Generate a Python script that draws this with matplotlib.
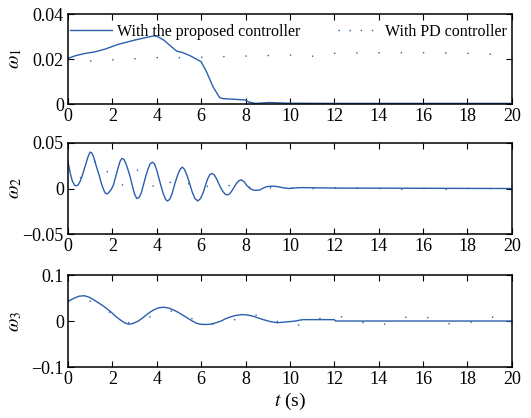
import matplotlib
matplotlib.use("Agg")
import matplotlib.pyplot as plt
from matplotlib.lines import Line2D

plt.rcParams['font.family'] = ['Liberation Serif', 'DejaVu Serif']
plt.rcParams['mathtext.fontset'] = 'stix'

# ---- data ----
t1_prop = [0, 0.34, 0.78, 1.22, 1.67, 2.26, 3.0, 3.58, 3.88, 4.03, 4.32, 4.6, 4.9, 5.13, 5.5, 6.0,
           6.24, 6.53, 6.83, 6.98, 7.4, 8.0, 8.15, 8.45, 9.05, 9.9, 12, 20]
w1_prop = [0.0203, 0.0215, 0.0225, 0.0232, 0.0244, 0.0265, 0.0284, 0.0297, 0.0303, 0.0300, 0.0284,
           0.0260, 0.0235, 0.0230, 0.0215, 0.0188, 0.0144, 0.0078, 0.0029, 0.0024, 0.0022, 0.0018,
           0.0009, 0.0003, 0.0007, 0.0004, 0.0003, 0.0003]
t1_pd = [0, 0.5, 1.1, 1.67, 2.85, 3.9, 5.5, 6.4, 7.9, 10.0, 10.8, 12, 14, 16, 18, 20]
w1_pd = [0.0203, 0.0196, 0.0190, 0.0195, 0.0200, 0.0206, 0.0206, 0.0209, 0.0213, 0.0218, 0.0210,
         0.0225, 0.0228, 0.0228, 0.0225, 0.0218]

t2_prop = [0, 0.06, 0.12, 0.2, 0.3, 0.38, 0.46, 0.55, 0.63, 0.73, 0.83, 0.92, 1.0, 1.07, 1.15,
           1.27, 1.4, 1.5, 1.6, 1.68, 1.76, 1.85, 1.95, 2.05, 2.15, 2.25, 2.35, 2.43, 2.52, 2.6,
           2.7, 2.8, 2.9, 3.0, 3.1, 3.2, 3.3, 3.4, 3.5, 3.6, 3.7, 3.8, 3.9, 4.0, 4.1, 4.2, 4.3,
           4.4, 4.48, 4.58, 4.7, 4.8, 4.93, 5.05, 5.15, 5.25, 5.37, 5.5, 5.6, 5.72, 5.85, 5.97,
           6.1, 6.2, 6.3, 6.4, 6.5, 6.6, 6.7, 6.8, 6.9, 7.0, 7.1, 7.2, 7.3, 7.4, 7.5, 7.6, 7.7,
           7.82, 7.95, 8.07, 8.2, 8.36, 8.5, 8.65, 8.8, 8.95, 9.1, 9.3, 9.5, 9.7, 9.95, 10.2,
           10.5, 12, 20]
w2_prop = [0.0295, 0.022, 0.015, 0.008, 0.0035, 0.003, 0.004, 0.008, 0.013, 0.021, 0.029, 0.036,
           0.040, 0.039, 0.035, 0.025, 0.015, 0.006, -0.001, -0.005, -0.006, -0.004, -0.001,
           0.004, 0.013, 0.022, 0.030, 0.033, 0.032, 0.028, 0.021, 0.013, 0.003, -0.006, -0.011,
           -0.010, -0.005, 0.004, 0.013, 0.021, 0.027, 0.029, 0.027, 0.020, 0.011, 0.002, -0.006,
           -0.012, -0.0137, -0.012, -0.005, 0.004, 0.014, 0.021, 0.0235, 0.021, 0.014, 0.004,
           -0.004, -0.011, -0.0137, -0.011, -0.004, 0.004, 0.011, 0.0155, 0.0165, 0.0145, 0.0105,
           0.005, 0.0, -0.004, -0.0065, -0.007, -0.0055, -0.002, 0.002, 0.006, 0.0085, 0.0095,
           0.007, 0.003, 0.0, -0.0018, -0.002, -0.0015, 0.0005, 0.002, 0.0025, 0.0025, 0.0018,
           0.0008, 0.0, 0.0005, 0.001, 0.0005, 0.0]
t2_pd = [0, 0.15, 0.37, 0.6, 0.77, 0.93, 1.15, 1.4, 1.66, 1.8, 2.1, 2.4, 2.75, 3.1, 3.4, 3.73,
         4.07, 4.47, 4.86, 5.3, 5.6, 5.95, 6.3, 6.9, 7.2, 7.6, 8.1, 8.56, 9.0, 9.5, 10.0, 10.5,
         11.0, 11.5, 12.4, 13.4, 14, 15, 16, 17, 18, 19, 20]
w2_pd = [0.030, 0.019, 0.012, 0.012, 0.014, 0.019, 0.028, 0.034, 0.024, 0.017, 0.008, 0.0025,
         0.012, 0.021, 0.013, 0.0054, -0.003, 0.0043, 0.0115, 0.0097, 0.0, -0.002, 0.0025, 0.005,
         0.0043, -0.002, 0.0007, 0.005, 0.002, -0.003, 0.0, 0.003, 0.0, -0.001, 0.002, -0.001,
         0.0, -0.001, 0.0, -0.001, 0.0, 0.0, 0.0]

t3_prop = [0, 0.25, 0.5, 0.74, 0.95, 1.2, 1.55, 1.8, 2.0, 2.2, 2.4, 2.6, 2.75, 2.95, 3.17, 3.4,
           3.6, 3.85, 4.1, 4.32, 4.55, 4.8, 5.0, 5.2, 5.4, 5.6, 5.8, 5.97, 6.2, 6.4, 6.65, 6.9,
           7.1, 7.3, 7.55, 7.85, 8.1, 8.3, 8.55, 8.8, 9.1, 9.4, 9.6, 9.8, 10.05, 10.25, 10.45,
           10.6, 12.0, 12.05, 20]
w3_prop = [0.043, 0.049, 0.054, 0.055, 0.052, 0.045, 0.034, 0.025, 0.017, 0.008, 0.001, -0.005,
           -0.007, -0.005, 0.0, 0.008, 0.016, 0.024, 0.029, 0.030, 0.028, 0.023, 0.018, 0.012,
           0.006, 0.0, -0.005, -0.007, -0.0075, -0.007, -0.004, 0.0, 0.005, 0.0086, 0.012, 0.014,
           0.013, 0.011, 0.007, 0.003, -0.001, -0.0036, -0.003, -0.002, -0.001, 0.0, 0.002,
           0.003, 0.003, 0.0, 0.0]
t3_pd = [0, 0.55, 1.03, 1.6, 2.2, 2.65, 3.1, 3.6, 4.1, 4.6, 5.1, 5.5, 5.97, 6.4, 6.9, 7.35, 7.85,
         8.3, 8.8, 9.3, 9.8, 10.2, 10.7, 10.9, 11.4, 11.85, 12.35, 12.85, 13.3, 13.8, 14.3, 14.7,
         15.2, 15.5, 16.0, 16.5, 16.95, 17.4, 17.9, 18.4, 18.9, 19.4, 19.9, 20]
w3_pd = [0.042, 0.048, 0.043, 0.028, 0.009, -0.004, -0.002, 0.007, 0.017, 0.022, 0.017, 0.007,
         -0.004, -0.007, -0.006, 0.0, 0.009, 0.014, 0.011, 0.0015, -0.007, -0.011, -0.005, -0.002,
         0.0065, 0.013, 0.009, 0.003, -0.0036, -0.010, -0.0065, 0.0, 0.008, 0.010, 0.010, 0.0036,
         -0.0036, -0.008, -0.005, 0.0, 0.007, 0.010, 0.007, 0.006]

xticks = [0, 2, 4, 6, 8, 10, 12, 14, 16, 18, 20]
yticks1 = [0, 0.02, 0.04]
yticks2 = [-0.05, 0, 0.05]
yticks3 = [-0.1, 0, 0.1]
ylabels = [r'$\omega_1$', r'$\omega_2$', r'$\omega_3$']
ytlabels1 = ['0', '0.02', '0.04']
ytlabels2 = ['\u22120.05', '0', '0.05']
ytlabels3 = ['\u22120.1', '0', '0.1']
legend_labels = ['With the proposed controller', 'With PD controller']

color = '#2b5fad'

fig = plt.figure(figsize=(5.31, 4.18), dpi=100)
left, width = 0.128, 0.836
rects = [(left, 0.751, width, 0.2155), (left, 0.440, width, 0.218), (left, 0.122, width, 0.220)]
series = [(t1_prop, w1_prop, t1_pd, w1_pd, yticks1, ytlabels1, (0, 0.04)),
          (t2_prop, w2_prop, t2_pd, w2_pd, yticks2, ytlabels2, (-0.05, 0.05)),
          (t3_prop, w3_prop, t3_pd, w3_pd, yticks3, ytlabels3, (-0.1, 0.1))]

axes = []
for i, (r, s) in enumerate(zip(rects, series)):
    ax = fig.add_axes(r)
    tp, wp, td, wd, yt, ytl, ylim = s
    ax.plot(tp, wp, color=color, lw=1.0)
    ax.plot(td, wd, color=color, lw=1.0, linestyle=(0, (1, 15)))
    ax.set_xlim(0, 20)
    ax.set_ylim(*ylim)
    ax.set_xticks(xticks)
    ax.set_xticklabels([str(v) for v in xticks])
    ax.set_yticks(yt)
    ax.set_yticklabels(ytl)
    ax.tick_params(direction='in', top=True, right=True, length=4, width=0.8,
                   labelsize=13, pad=3)
    for sp in ax.spines.values():
        sp.set_linewidth(1.1)
    ax.set_ylabel(ylabels[i], fontsize=14)
    ax.yaxis.set_label_coords(-0.1, 0.5)
    axes.append(ax)

h1 = Line2D([], [], color=color, lw=1.0)
h2 = Line2D([], [], color=color, lw=1.0, linestyle=(0, (1, 7)))
axes[0].legend(handles=[h1, h2], labels=legend_labels, loc='center left', ncol=2, frameon=False,
               fontsize=11.5, handlelength=2.6, handletextpad=0.3, columnspacing=2.4,
               bbox_to_anchor=(0.005, 0.8), borderaxespad=0, borderpad=0)

axes[2].set_xlabel(r'$t$ (s)', fontsize=14, labelpad=2)

fig.savefig('out.png', dpi=100)
